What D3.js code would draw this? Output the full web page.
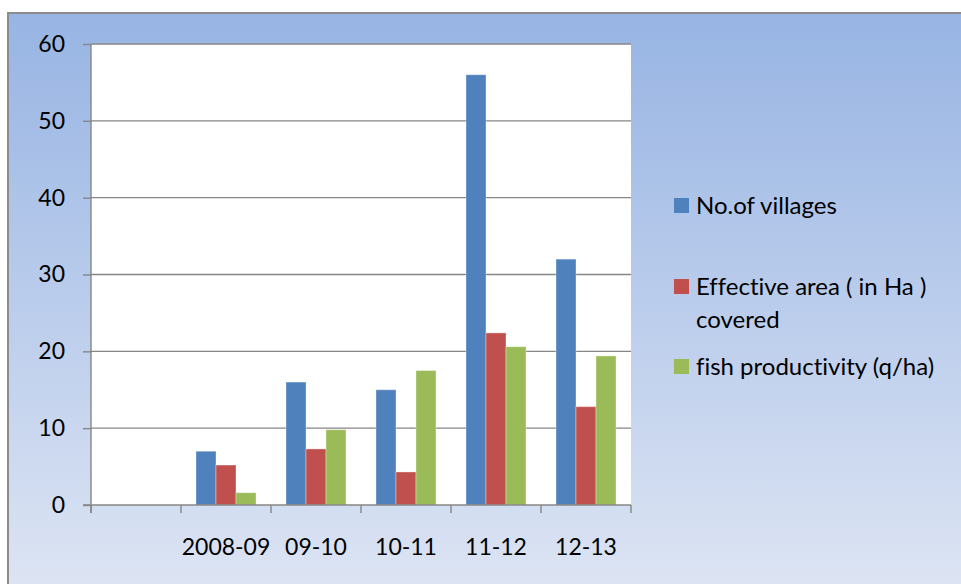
<!DOCTYPE html>
<html>
<head>
<meta charset="utf-8">
<script src="https://cdn.jsdelivr.net/npm/d3@7/dist/d3.min.js"></script>
<style>
  html, body { margin: 0; padding: 0; background: #ffffff; }
  svg { display: block; }
  text { font-family: Lato, "Open Sans", sans-serif; fill: #000; font-variant-ligatures: none; }
</style>
</head>
<body>
<svg id="chart" width="961" height="584"></svg>
<script>
// Fish production programme: villages, area and productivity by year
const categories = ["", "2008-09", "09-10", "10-11", "11-12", "12-13"];
const villages = [null, 7, 16, 15, 56, 32];
const effectiveArea = [null, 5.2, 7.3, 4.3, 22.4, 12.8];
const productivity = [null, 1.6, 9.8, 17.5, 20.6, 19.4];
const seriesNames = ["No.of villages", "Effective area ( in Ha ) covered", "fish productivity (q/ha)"];
const seriesColors = ["#4f81bd", "#c0504d", "#9bbb59"];
const yTicks = [0, 10, 20, 30, 40, 50, 60];

const seriesValues = [villages, effectiveArea, productivity];

const svg = d3.select("#chart");
const W = 961, H = 584;
const plot = { left: 91, right: 631, top: 44, bottom: 505 };
const axisColor = "#868686";
const fontSize = "23px";
const legendFontSize = "24px";

// Chart background with vertical gradient
const defs = svg.append("defs");
const grad = defs.append("linearGradient")
  .attr("id", "bg").attr("x1", 0).attr("y1", 0).attr("x2", 0).attr("y2", 1);
grad.append("stop").attr("offset", "0%").attr("stop-color", "#97b4e3");
grad.append("stop").attr("offset", "100%").attr("stop-color", "#dfe6f4");

svg.append("rect")
  .attr("x", 8).attr("y", 13)
  .attr("width", W + 10).attr("height", H + 10)
  .attr("fill", "url(#bg)")
  .attr("stroke", "#8c8c8c").attr("stroke-width", 2);

// Plot area
svg.append("rect")
  .attr("x", plot.left).attr("y", plot.top)
  .attr("width", plot.right - plot.left).attr("height", plot.bottom - plot.top)
  .attr("fill", "#ffffff");

const x = d3.scaleBand().domain(categories).range([plot.left, plot.right]).paddingInner(0).paddingOuter(0);
const x1 = d3.scaleBand().domain(d3.range(seriesNames.length)).range([0, x.bandwidth()]).paddingInner(0).paddingOuter(0.75);
const y = d3.scaleLinear().domain([0, 60]).range([plot.bottom, plot.top]);

// Horizontal gridlines
svg.append("g").selectAll("line").data(yTicks.filter(t => t > 0)).join("line")
  .attr("x1", plot.left).attr("x2", plot.right)
  .attr("y1", d => y(d)).attr("y2", d => y(d))
  .attr("stroke", axisColor).attr("stroke-width", 1.4);

// Bars
const groups = svg.append("g").selectAll("g").data(categories).join("g")
  .attr("transform", d => `translate(${x(d)},0)`);
groups.selectAll("rect")
  .data((c, i) => seriesValues.map((vals, s) => ({ s, v: vals[i] })).filter(d => d.v != null))
  .join("rect")
  .attr("x", d => x1(d.s))
  .attr("width", x1.bandwidth())
  .attr("y", d => y(d.v))
  .attr("height", d => y(0) - y(d.v))
  .attr("fill", d => seriesColors[d.s])
  .attr("stroke", "rgba(255,255,255,0.35)")
  .attr("stroke-width", 1);

// Y axis
const yAxis = svg.append("g")
  .attr("transform", `translate(${plot.left},0)`)
  .call(d3.axisLeft(y).tickValues(yTicks).tickSize(8).tickPadding(18).tickSizeOuter(0));
yAxis.select(".domain").attr("stroke", axisColor).attr("stroke-width", 1.4)
  .attr("d", `M0,${plot.top}V${plot.bottom + 8}`);
yAxis.selectAll(".tick line").attr("stroke", axisColor).attr("stroke-width", 1.4);
yAxis.selectAll(".tick text").style("font-size", fontSize).attr("fill", "#000");

// X axis: category labels centered, ticks at category boundaries
const xAxis = svg.append("g")
  .attr("transform", `translate(0,${plot.bottom})`)
  .call(d3.axisBottom(x).tickSize(0).tickSizeOuter(0));
xAxis.select(".domain").attr("stroke", axisColor).attr("stroke-width", 1.4)
  .attr("d", `M${plot.left - 8},0H${plot.right}`);
xAxis.selectAll(".tick text").attr("y", 42).attr("dy", "0.35em")
  .style("font-size", fontSize).attr("fill", "#000");
const bounds = categories.map(c => x(c)).concat([x.range()[1]]);
xAxis.append("g").selectAll("line").data(bounds).join("line")
  .attr("x1", d => d).attr("x2", d => d)
  .attr("y1", 0).attr("y2", 8)
  .attr("stroke", axisColor).attr("stroke-width", 1.4);

// Legend
const legendItems = [
  { lines: ["No.of villages"], y: 206 },
  { lines: ["Effective area ( in Ha )", "covered"], y: 287 },
  { lines: ["fish productivity (q/ha)"], y: 367 }
];
const legend = svg.append("g");
legendItems.forEach((item, i) => {
  legend.append("rect")
    .attr("x", 674).attr("y", item.y - 8)
    .attr("width", 15).attr("height", 15)
    .attr("fill", seriesColors[i]);
  const t = legend.append("text")
    .attr("x", 696).attr("y", item.y)
    .style("font-size", legendFontSize);
  item.lines.forEach((ln, j) => {
    t.append("tspan").attr("x", 696).attr("dy", j === 0 ? "0.35em" : "33px").text(ln);
  });
});
</script>
</body>
</html>
